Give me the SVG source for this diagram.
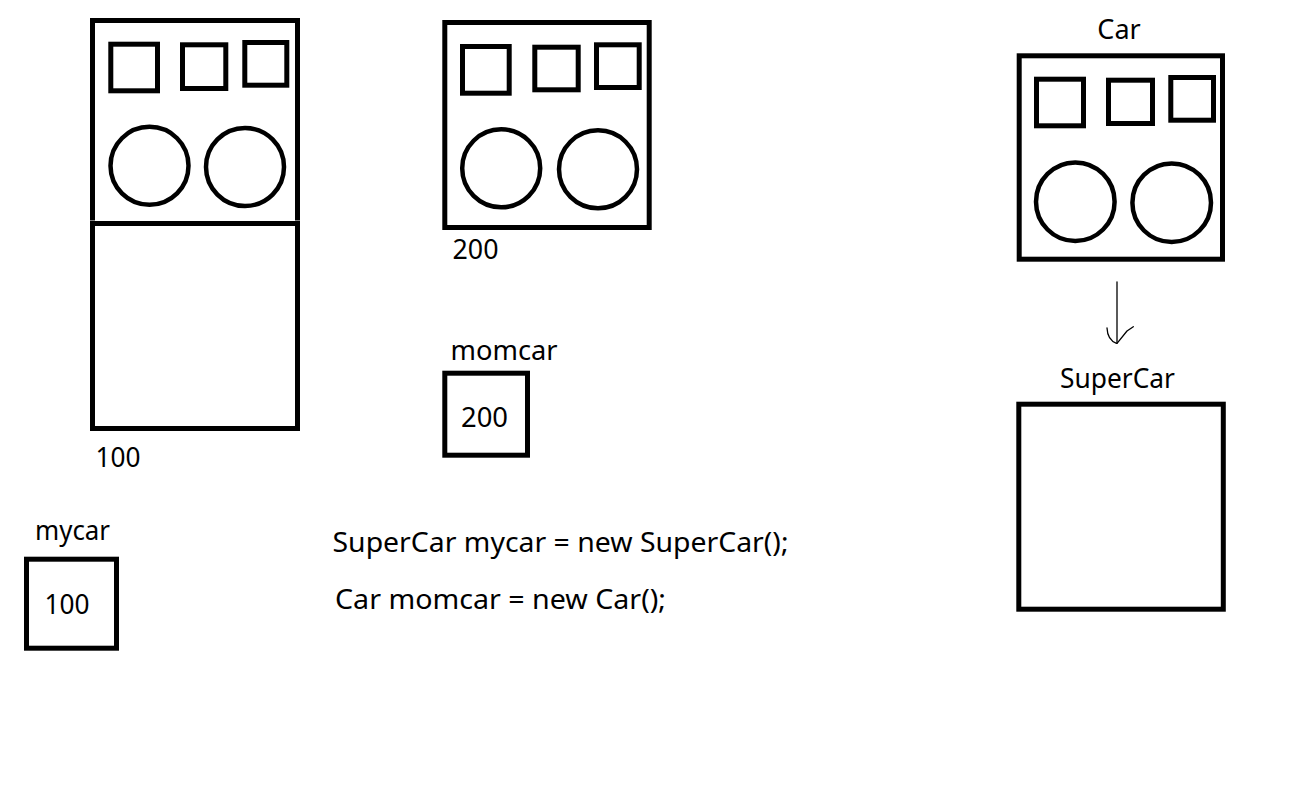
<svg xmlns="http://www.w3.org/2000/svg" width="1292" height="804" viewBox="0 0 1292 804">
<style>
.box{fill:none;stroke:#000;stroke-width:5;stroke-linejoin:miter}
.part{fill:none;stroke:#000;stroke-width:5}
.wheel{fill:none;stroke:#000;stroke-width:4.5}
.t{font-family:"Noto Sans","Liberation Sans",sans-serif;font-size:27px;fill:#000}
.conn{fill:none;stroke:#000;stroke-width:1.3;stroke-linecap:round;stroke-linejoin:round}
</style>
<rect width="1292" height="804" fill="#fff"/>

<g id="heap-object-100">
  <path class="box" d="M92.5,220.5 V20.5 H297.5 V220.5"/>
  <rect class="part" x="110.8" y="44.2" width="46.7" height="46.6"/>
  <rect class="part" x="182.5" y="44.8" width="43.3" height="43.7"/>
  <rect class="part" x="244.8" y="42.5" width="42" height="42.7"/>
  <circle class="wheel" cx="149.5" cy="165.8" r="39"/>
  <circle class="wheel" cx="245" cy="167" r="39"/>
  <rect class="box" x="92.5" y="223.5" width="205" height="205"/>
  <text class="t" x="95.5" y="466.5" textLength="45" lengthAdjust="spacingAndGlyphs">100</text>
</g>

<g id="heap-object-200">
  <rect class="box" x="444.8" y="22.5" width="204.4" height="205"/>
  <rect class="part" x="462.5" y="46.5" width="46.7" height="46.7"/>
  <rect class="part" x="534.8" y="47.2" width="43.4" height="42.6"/>
  <rect class="part" x="596.5" y="44.8" width="42.7" height="42.7"/>
  <circle class="wheel" cx="501.2" cy="168.3" r="39"/>
  <circle class="wheel" cx="598" cy="169.3" r="39"/>
  <text class="t" x="452.5" y="259" textLength="46" lengthAdjust="spacingAndGlyphs">200</text>
</g>

<g id="class-car">
  <text class="t" x="1119" y="38.5" text-anchor="middle">Car</text>
  <rect class="box" x="1019.2" y="55.8" width="203.3" height="203.4"/>
  <rect class="part" x="1036.5" y="79.2" width="47" height="46.6"/>
  <rect class="part" x="1108.5" y="80.2" width="44" height="43.3"/>
  <rect class="part" x="1170.8" y="77.5" width="42.7" height="42.7"/>
  <circle class="wheel" cx="1075.3" cy="201.7" r="39.3"/>
  <circle class="wheel" cx="1171.7" cy="202.7" r="39.3"/>
</g>

<g id="class-supercar">
  <text class="t" x="1117.5" y="387.5" text-anchor="middle" textLength="115" lengthAdjust="spacingAndGlyphs">SuperCar</text>
  <rect class="box" x="1018.8" y="404.2" width="204.5" height="205"/>
</g>

<g id="var-momcar">
  <text class="t" x="450.5" y="360" textLength="107" lengthAdjust="spacingAndGlyphs">momcar</text>
  <rect class="box" x="444.8" y="373.2" width="82.7" height="82"/>
  <text class="t" x="461" y="426.5" textLength="47" lengthAdjust="spacingAndGlyphs">200</text>
</g>

<g id="var-mycar">
  <text class="t" x="35" y="540" textLength="75" lengthAdjust="spacingAndGlyphs">mycar</text>
  <rect class="box" x="26.5" y="559.2" width="90" height="89"/>
  <text class="t" x="44.5" y="613.5" textLength="45" lengthAdjust="spacingAndGlyphs">100</text>
</g>

<g id="code">
  <text class="t" x="332.5" y="552" textLength="456" lengthAdjust="spacingAndGlyphs">SuperCar mycar = new SuperCar();</text>
  <text class="t" x="335" y="608.5" textLength="331" lengthAdjust="spacingAndGlyphs">Car momcar = new Car();</text>
</g>

<g id="connectors">
  <path class="conn" d="M1117,282 V343"/>
  <path class="conn" d="M1107,328 Q1107.5,340 1116.5,343.3"/>
  <path class="conn" d="M1133.3,326.7 L1127,331 L1117,343.3"/>
</g>
</svg>
